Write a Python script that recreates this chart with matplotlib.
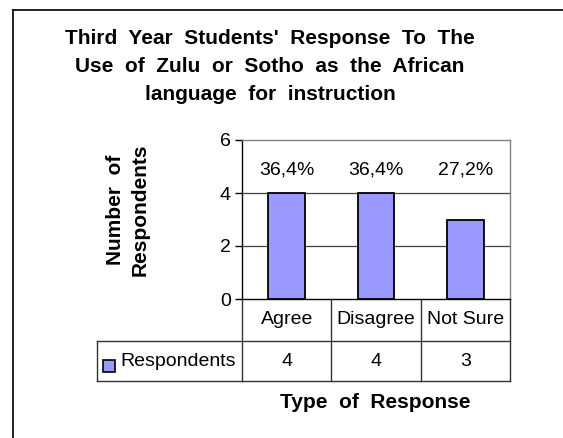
import matplotlib
matplotlib.use("Agg")
import matplotlib.pyplot as plt
from matplotlib.patches import Rectangle
from matplotlib.lines import Line2D
from matplotlib.transforms import blended_transform_factory

plt.rcParams['font.family'] = ['Liberation Sans', 'DejaVu Sans']

categories = ["Agree", "Disagree", "Not Sure"]
values = [4, 4, 3]
pct_labels = ["36,4%", "36,4%", "27,2%"]
series_name = "Respondents"
yticks = [0, 2, 4, 6]
title = "Third  Year  Students'  Response  To  The\nUse  of  Zulu  or  Sotho  as  the  African\nlanguage  for  instruction"
y_label = "Number  of\nRespondents"
x_label = "Type  of  Response"

W, H = 563, 438
fig = plt.figure(figsize=(W / 100, H / 100), dpi=100)
fig.patch.set_facecolor("white")

def fx(px):
    return px / W

def fy(py):
    return 1 - py / H

# outer chart border
fig.add_artist(Line2D([fx(13), fx(13)], [fy(10), fy(440)], color="black", lw=1.2, transform=fig.transFigure))
fig.add_artist(Line2D([fx(13), fx(570)], [fy(10), fy(10)], color="black", lw=1.2, transform=fig.transFigure))

L, R, T, B = 242, 510, 140, 299
ax = fig.add_axes([fx(L), fy(B), fx(R) - fx(L), fy(T) - fy(B)])
x = list(range(len(categories)))
ax.bar(x, values, width=0.41, color="#9999FF", edgecolor="black", linewidth=1.3, zorder=3)
ax.set_xlim(-0.5, len(categories) - 0.5)
ax.set_ylim(0, 6)
ax.set_yticks(yticks)
ax.set_yticklabels([str(t) for t in yticks], fontsize=14)
ax.set_xticks([])
ax.tick_params(axis="y", length=5, width=1, pad=3)
for t in yticks[1:-1]:
    ax.axhline(t, color="#404040", lw=0.9, zorder=1)
ax.spines["left"].set_color("black")
ax.spines["bottom"].set_color("black")
ax.spines["top"].set_color("#808080")
ax.spines["right"].set_color("#808080")
for s in ax.spines.values():
    s.set_linewidth(1.0)

for xi, lab in zip(x, pct_labels):
    ax.text(xi, 4.85, lab, ha="center", va="center", fontsize=14)

ax.set_ylabel(y_label, fontsize=15, fontweight="bold", labelpad=0, linespacing=1.4)
ax.yaxis.set_label_coords(-0.345, 0.56)

# data table below axes (data-x / figure-y blended coordinates)
tr = blended_transform_factory(ax.transData, fig.transFigure)
row1, row2 = 341, 381
lc = "#333333"
for b in [i - 0.5 for i in range(len(categories) + 1)]:
    ax.add_artist(Line2D([b, b], [fy(B), fy(row2)], color=lc, lw=1.0, transform=tr, clip_on=False))
ax.add_artist(Line2D([-0.5, len(categories) - 0.5], [fy(row1), fy(row1)], color=lc, lw=1.0, transform=tr, clip_on=False))
ax.add_artist(Line2D([-0.5, len(categories) - 0.5], [fy(row2), fy(row2)], color=lc, lw=1.0, transform=tr, clip_on=False))
fig.add_artist(Line2D([fx(97), fx(L)], [fy(row1), fy(row1)], color=lc, lw=1.0, transform=fig.transFigure))
fig.add_artist(Line2D([fx(97), fx(L)], [fy(row2), fy(row2)], color=lc, lw=1.0, transform=fig.transFigure))
fig.add_artist(Line2D([fx(97), fx(97)], [fy(row1), fy(row2)], color=lc, lw=1.0, transform=fig.transFigure))

for xi, cat, v in zip(x, categories, values):
    ax.text(xi, fy((B + row1) / 2), cat, ha="center", va="center", fontsize=14, transform=tr)
    ax.text(xi, fy((row1 + row2) / 2), str(v), ha="center", va="center", fontsize=14, transform=tr)

fig.add_artist(Rectangle((fx(103), fy(372)), fx(12), fy(360) - fy(372), facecolor="#9999FF",
                         edgecolor="black", lw=1.2, transform=fig.transFigure))
fig.text(fx(120), fy(361), series_name, ha="left", va="center", fontsize=14)

fig.text(fx(375), fy(403), x_label, ha="center", va="center", fontsize=15, fontweight="bold")
fig.text(fx(270), fy(66), title, ha="center", va="center", fontsize=15, fontweight="bold", linespacing=1.6)

fig.savefig("out.png", dpi=100)
